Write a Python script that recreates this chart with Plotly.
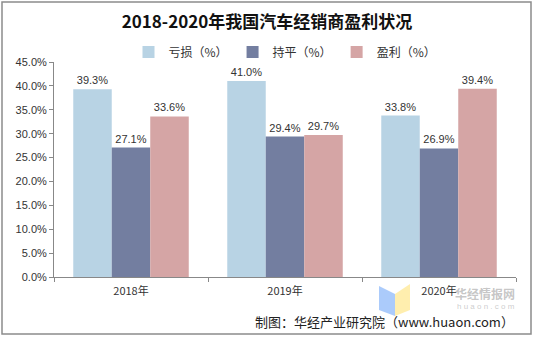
import plotly.graph_objects as go

categories = ["2018年", "2019年", "2020年"]
loss = [0.393, 0.410, 0.338]
breakeven = [0.271, 0.294, 0.269]
profit = [0.336, 0.297, 0.394]
series_names = ["亏损（%）", "持平（%）", "盈利（%）"]
colors = ["#B8D3E4", "#737EA0", "#D5A5A5"]

W, H = 534, 337
L, R, T, B = 54, 18, 62, 60

fig = go.Figure()
for name, vals, c in zip(series_names, [loss, breakeven, profit], colors):
    fig.add_trace(go.Bar(
        x=categories, y=vals, name=name, marker=dict(color=c, line=dict(width=0)),
        text=[f"{v*100:.1f}%" for v in vals], textposition="outside",
        textfont=dict(size=11, color="#333333", family="Liberation Sans, Arial"),
        cliponaxis=False,
    ))

def px(x):
    return (x - L) / (W - L - R)

def py(y):
    return (H - B - y) / (H - T - B)

fig.update_layout(
    width=W, height=H,
    margin=dict(l=L, r=R, t=T, b=B),
    paper_bgcolor="white", plot_bgcolor="white",
    barmode="group", bargap=0.25, bargroupgap=0,
    font=dict(family="Liberation Sans, Arial", color="#333333"),
    title=dict(text="<b>2018-2020年我国汽车经销商盈利状况</b>", x=0.5, xanchor="center",
               y=1 - 22 / H, yanchor="middle",
               font=dict(size=17, family="Noto Sans CJK SC", color="#111111")),
    legend=dict(orientation="h", x=0.5, xanchor="center", y=py(52), yanchor="middle",
                font=dict(size=12, family="Noto Sans CJK SC", color="#333333"),
                itemwidth=30, traceorder="normal", bgcolor="rgba(0,0,0,0)"),
    showlegend=True,
    yaxis=dict(range=[0, 0.45], dtick=0.05, tickformat=".1%", showgrid=False,
               showline=True, linecolor="#888888", linewidth=1, ticks="outside",
               ticklen=4, tickcolor="#888888", zeroline=False,
               tickfont=dict(size=11, color="#333333", family="Liberation Sans, Arial")),
    xaxis=dict(showline=True, linecolor="#888888", linewidth=1, ticks="outside",
               tickson="boundaries", ticklen=4, tickcolor="#888888", ticklabelstandoff=4,
               tickfont=dict(size=11, color="#333333", family="Noto Sans CJK SC")),
)

# outer border
fig.add_shape(type="rect", xref="paper", yref="paper",
              x0=px(2), x1=px(531), y0=py(334), y1=py(2),
              line=dict(color="#8C8C8C", width=1.5), fillcolor="rgba(0,0,0,0)", layer="below")

# watermark logo
fig.add_shape(type="path", xref="paper", yref="paper",
              path=f"M {px(379)} {py(286)} L {px(395)} {py(294)} L {px(395)} {py(316)} L {px(379)} {py(310)} Z",
              fillcolor="rgba(150,190,250,0.8)", line=dict(width=0))
fig.add_shape(type="path", xref="paper", yref="paper",
              path=f"M {px(395)} {py(294)} L {px(410)} {py(284)} L {px(410)} {py(310)} L {px(395)} {py(316)} Z",
              fillcolor="rgba(255,235,160,0.85)", line=dict(width=0))
fig.add_annotation(text="<b>华经情报网</b>", xref="paper", yref="paper",
                   x=px(517), y=py(293), xanchor="right", yanchor="middle", showarrow=False,
                   font=dict(size=12, color="rgba(150,150,150,0.55)", family="Noto Sans CJK SC"))
fig.add_annotation(text="h u a o n . c o m", xref="paper", yref="paper",
                   x=px(517), y=py(306), xanchor="right", yanchor="middle", showarrow=False,
                   font=dict(size=8, color="rgba(170,170,170,0.6)", family="Liberation Sans, Arial"))

fig.add_annotation(text="制图：华经产业研究院（www.huaon.com）", xref="paper", yref="paper",
                   x=px(516), y=py(321), xanchor="right", yanchor="middle", showarrow=False,
                   font=dict(size=13, color="#222222", family="Noto Sans CJK SC"))

fig.write_html("out.html")
